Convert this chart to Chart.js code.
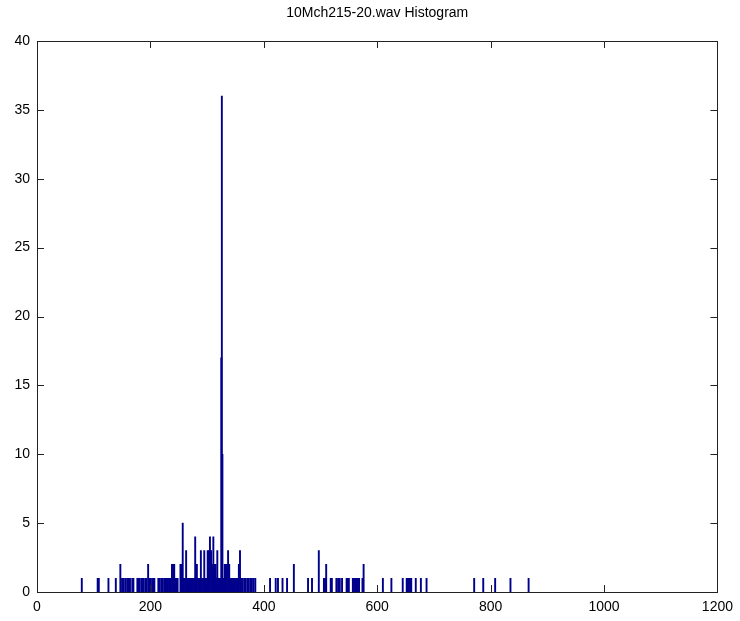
<!DOCTYPE html>
<html lang="en">
<head>
<meta charset="UTF-8">
<script src="https://cdn.jsdelivr.net/npm/chart.js@4.4.0/dist/chart.umd.min.js"></script>
<title>10Mch215-20.wav Histogram</title>
<style>
  body { margin: 0; background: #fff; }
  canvas { display: block; }
</style>
</head>
<body>
<canvas id="histo" width="740" height="621"></canvas>
<script>
// bin centres and counts
var binCenters = [
  79, 107, 109, 126, 139, 147, 150, 153, 156, 159, 162, 164, 168, 170, 177, 179, 181, 184, 186, 188,
  191, 193, 196, 198, 200, 203, 205, 207, 214, 216, 219, 222, 225, 227, 229, 231, 233, 235, 238, 240,
  242, 244, 246, 248, 253, 255, 257, 259, 261, 263, 265, 267, 269, 271, 273, 275, 277, 279, 282, 284,
  286, 289, 291, 293, 295, 297, 299, 301, 303, 305, 307, 309, 311, 313, 315, 317, 318, 320, 322, 324,
  325, 326, 327, 329, 331, 333, 335, 337, 339, 341, 343, 345, 347, 349, 351, 353, 356, 358, 360, 363,
  366, 368, 371, 373, 376, 379, 382, 385, 411, 421, 425, 433, 441, 453, 478, 485, 497, 506, 508, 510,
  518, 520, 528, 531, 534, 538, 546, 548, 550, 557, 559, 561, 563, 566, 568, 574, 576, 610, 625, 645,
  652, 654, 656, 658, 660, 668, 677, 687, 771, 787, 808, 835, 867
];
var counts = [
  1, 1, 1, 1, 1, 2, 1, 1, 1, 1, 1, 1, 1, 1, 1, 1, 1, 1, 1, 1,
  1, 1, 2, 1, 1, 1, 1, 1, 1, 1, 1, 1, 1, 1, 1, 1, 1, 1, 2, 2,
  2, 1, 1, 1, 2, 2, 5, 1, 1, 3, 1, 1, 1, 1, 1, 1, 1, 4, 2, 1,
  1, 3, 1, 1, 3, 1, 1, 3, 3, 4, 3, 2, 4, 2, 2, 1, 3, 1, 1, 1,
  17, 36, 10, 1, 2, 2, 2, 3, 2, 1, 1, 1, 1, 1, 1, 1, 2, 3, 1, 1,
  1, 1, 1, 1, 1, 1, 1, 1, 1, 1, 1, 1, 1, 2, 1, 1, 3, 1, 1, 2,
  1, 1, 1, 1, 1, 1, 1, 1, 1, 1, 1, 1, 1, 1, 1, 1, 2, 1, 1, 1,
  1, 1, 1, 1, 1, 1, 1, 1, 1, 1, 1, 1, 1
];
var xTicks = [0, 200, 400, 600, 800, 1000, 1200];
var yTicks = [0, 5, 10, 15, 20, 25, 30, 35, 40];
var titleText = '10Mch215-20.wav Histogram';

var points = binCenters.map(function (c, i) { return { x: c, y: counts[i] }; });
var fontFam = '"Liberation Sans", Arial, sans-serif';

// matlab style box with inward ticks
var boxPlugin = {
  id: 'box',
  afterDraw: function (chart) {
    var ctx = chart.ctx, a = chart.chartArea;
    var xs = chart.scales.x, ys = chart.scales.y;
    ctx.save();
    ctx.strokeStyle = '#222';
    ctx.lineWidth = 1;
    ctx.strokeRect(Math.round(a.left) + 0.5, Math.round(a.top) + 0.5,
      Math.round(a.right - a.left), Math.round(a.bottom - a.top));
    ctx.beginPath();
    xTicks.forEach(function (t) {
      var px = Math.round(xs.getPixelForValue(t)) + 0.5;
      ctx.moveTo(px, a.bottom); ctx.lineTo(px, a.bottom - 7);
      ctx.moveTo(px, a.top); ctx.lineTo(px, a.top + 7);
    });
    yTicks.forEach(function (t) {
      var py = Math.round(ys.getPixelForValue(t)) + 0.5;
      ctx.moveTo(a.left, py); ctx.lineTo(a.left + 7, py);
      ctx.moveTo(a.right, py); ctx.lineTo(a.right - 7, py);
    });
    ctx.stroke();
    ctx.restore();
  }
};

var ctx = document.getElementById('histo').getContext('2d');
var chart = new Chart(ctx, {
  type: 'bar',
  data: {
    datasets: [{
      data: points,
      backgroundColor: '#00008c',
      borderWidth: 0,
      barThickness: 1.25
    }]
  },
  options: {
    responsive: false,
    animation: false,
    layout: { padding: { left: 0, right: 22, top: 0, bottom: 0 } },
    plugins: {
      legend: { display: false },
      tooltip: { enabled: false },
      title: {
        display: true,
        text: titleText,
        fullSize: false,
        color: '#000',
        font: { family: fontFam, size: 14, weight: 'normal' },
        padding: { top: 5, bottom: 19.2 }
      }
    },
    scales: {
      x: {
        type: 'linear',
        min: 0,
        max: 1200,
        offset: false,
        grid: { display: false, drawTicks: false },
        border: { display: false },
        afterFit: function (s) { s.height = 29; },
        afterBuildTicks: function (s) { s.ticks = xTicks.map(function (v) { return { value: v }; }); },
        ticks: {
          color: '#000',
          padding: 7,
          maxRotation: 0,
          font: { family: fontFam, size: 14 },
          callback: function (v) { return String(v); }
        }
      },
      y: {
        min: 0,
        max: 40,
        grid: { display: false, drawTicks: false },
        border: { display: false },
        afterFit: function (s) { s.width = 37; },
        afterBuildTicks: function (s) { s.ticks = yTicks.map(function (v) { return { value: v }; }); },
        ticks: {
          color: '#000',
          padding: 7,
          font: { family: fontFam, size: 14 },
          callback: function (v) { return String(v); }
        }
      }
    }
  },
  plugins: [boxPlugin]
});
</script>
</body>
</html>
